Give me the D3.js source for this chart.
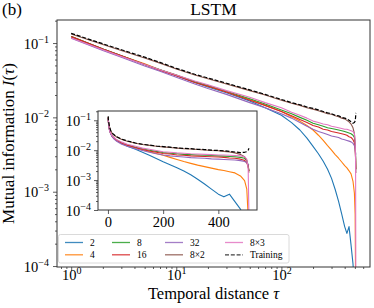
<!DOCTYPE html>
<html>
<head>
<meta charset="utf-8">
<script src="https://cdn.jsdelivr.net/npm/d3@7"></script>
<style>
body { margin: 0; background: #fff; }
svg text { font-family: "Liberation Serif", "Times New Roman", serif; fill: #000; }
</style>
</head>
<body>
<svg id="drawing_region"></svg>
<script>
// temporal distance grid
const tau = [1, 2, 3, 5, 7, 10, 15, 20, 30, 50, 70, 100, 125, 150, 175, 200, 225, 250, 275, 300,
             325, 350, 375, 400, 420, 440, 460, 480, 495, 503, 508, 511];

// mutual information I(tau) per model, estimated from the plot
const mi_2 = [1.22e-1, 8.32e-2, 6.76e-2, 5.13e-2, 4.37e-2, 3.63e-2, 2.95e-2, 2.57e-2, 2.14e-2, 1.66e-2, 1.35e-2, 1.07e-2,
              8.51e-3, 6.76e-3, 5.25e-3, 4.07e-3, 3.24e-3, 2.57e-3, 2.00e-3, 1.51e-3, 1.07e-3, 7.41e-4, 5.01e-4, 3.39e-4,
              2.75e-4, 3.39e-4, 1.91e-4, 1.07e-4, 5.01e-5, 2.51e-5, 2.51e-5, 2.51e-5];
const mi_4 = [1.22e-1, 8.32e-2, 6.76e-2, 5.25e-2, 4.37e-2, 3.72e-2, 3.02e-2, 2.63e-2, 2.19e-2, 1.74e-2, 1.45e-2, 1.20e-2,
              1.02e-2, 8.91e-3, 7.76e-3, 6.76e-3, 5.75e-3, 4.90e-3, 4.17e-3, 3.63e-3, 3.16e-3, 2.82e-3, 2.51e-3, 2.24e-3,
              2.09e-3, 1.91e-3, 1.74e-3, 1.38e-3, 9.55e-4, 5.01e-4, 6.31e-5, 3.98e-5];
const mi_8 = [1.22e-1, 8.32e-2, 6.76e-2, 5.13e-2, 4.37e-2, 3.72e-2, 3.02e-2, 2.69e-2, 2.24e-2, 1.78e-2, 1.51e-2, 1.26e-2,
              1.12e-2, 1.00e-2, 9.12e-3, 8.32e-3, 7.94e-3, 7.59e-3, 7.24e-3, 7.08e-3, 6.92e-3, 6.76e-3, 6.61e-3, 6.46e-3,
              6.31e-3, 6.17e-3, 6.03e-3, 5.75e-3, 5.37e-3, 4.47e-3, 3.16e-3, 2.00e-3];
const mi_16 = [1.22e-1, 8.32e-2, 6.76e-2, 5.13e-2, 4.27e-2, 3.63e-2, 2.95e-2, 2.63e-2, 2.19e-2, 1.70e-2, 1.45e-2, 1.20e-2,
               1.05e-2, 9.33e-3, 8.51e-3, 7.76e-3, 7.41e-3, 6.92e-3, 6.76e-3, 6.46e-3, 6.31e-3, 6.17e-3, 6.03e-3, 5.89e-3,
               5.75e-3, 5.50e-3, 5.37e-3, 5.01e-3, 4.57e-3, 3.80e-3, 2.82e-3, 2.00e-3];
const mi_32 = [1.16e-1, 7.94e-2, 6.46e-2, 4.90e-2, 4.17e-2, 3.47e-2, 2.82e-2, 2.45e-2, 2.04e-2, 1.58e-2, 1.35e-2, 1.12e-2,
               9.77e-3, 8.51e-3, 7.59e-3, 6.92e-3, 6.46e-3, 6.17e-3, 5.89e-3, 5.62e-3, 5.50e-3, 5.37e-3, 5.13e-3, 5.01e-3,
               4.90e-3, 4.79e-3, 4.68e-3, 4.47e-3, 4.17e-3, 3.80e-3, 3.31e-3, 3.16e-3];
const mi_8x2 = [1.32e-1, 9.55e-2, 7.94e-2, 6.31e-2, 5.37e-2, 4.47e-2, 3.72e-2, 3.31e-2, 2.82e-2, 2.29e-2, 2.00e-2, 1.70e-2,
                1.55e-2, 1.45e-2, 1.35e-2, 1.29e-2, 1.23e-2, 1.17e-2, 1.12e-2, 1.10e-2, 1.05e-2, 1.02e-2, 9.77e-3, 9.55e-3,
                9.12e-3, 8.71e-3, 8.13e-3, 7.24e-3, 6.03e-3, 4.47e-3, 2.82e-3, 1.78e-3];
const mi_8x3 = [1.17e-1, 8.13e-2, 6.61e-2, 5.13e-2, 4.37e-2, 3.72e-2, 3.09e-2, 2.75e-2, 2.29e-2, 1.86e-2, 1.58e-2, 1.35e-2,
                1.17e-2, 1.07e-2, 9.77e-3, 8.91e-3, 8.51e-3, 8.13e-3, 7.94e-3, 7.59e-3, 7.41e-3, 7.24e-3, 7.08e-3, 6.92e-3,
                6.92e-3, 6.76e-3, 6.61e-3, 6.46e-3, 6.03e-3, 5.01e-3, 2.51e-3, 5.01e-5];
const mi_training = [1.35e-1, 9.77e-2, 8.13e-2, 6.46e-2, 5.50e-2, 4.57e-2, 3.80e-2, 3.39e-2, 2.88e-2, 2.34e-2, 2.04e-2, 1.74e-2,
                     1.58e-2, 1.48e-2, 1.38e-2, 1.32e-2, 1.26e-2, 1.20e-2, 1.15e-2, 1.12e-2, 1.07e-2, 1.05e-2, 1.00e-2, 9.77e-3,
                     9.55e-3, 9.12e-3, 8.71e-3, 8.32e-3, 8.51e-3, 8.91e-3, 1.00e-2, 1.15e-2];

const seriesNames = ['2', '4', '8', '16', '32', '8×2', '8×3', 'Training'];
const seriesValues = [mi_2, mi_4, mi_8, mi_16, mi_32, mi_8x2, mi_8x3, mi_training];
const seriesColors = ['#1f77b4', '#ff7f0e', '#2ca02c', '#d62728', '#9467bd', '#8c564b', '#e377c2', '#000000'];

// tick labels
const xMajor = [1, 10, 100];
const xMajorExp = ['0', '1', '2'];
const yMajor = [1e-1, 1e-2, 1e-3, 1e-4];
const yMajorExp = ['\u22121', '\u22122', '\u22123', '\u22124'];
const insetXTicks = [0, 200, 400];

const W = 374, H = 308;
const main = { left: 57, right: 370, top: 20, bottom: 267 };
const inset = { left: 98, right: 257, top: 111, bottom: 210 };

const svg = d3.select('#drawing_region').attr('width', W).attr('height', H);

const series = seriesNames.map((name, i) => ({
    name: name,
    color: seriesColors[i],
    dashed: name === 'Training',
    points: tau.map((t, j) => ({ t: t, v: seriesValues[i][j] }))
}));

// main axes: log-log
const xscale = d3.scaleLog().domain([Math.pow(10, -0.135), Math.pow(10, 2.843)]).range([main.left, main.right]);
const yscale = d3.scaleLog().domain([Math.pow(10, -4.013), Math.pow(10, -0.69)]).range([main.bottom, main.top]);

// inset: linear x, log y
const ixscale = d3.scaleLinear().domain([-36, 540]).range([inset.left, inset.right]);
const iyscale = d3.scaleLog().domain([1e-4, Math.pow(10, -0.69)]).range([inset.bottom, inset.top]);

const defs = svg.append('defs');
defs.append('clipPath').attr('id', 'clip-main').append('rect')
    .attr('x', main.left).attr('y', main.top)
    .attr('width', main.right - main.left).attr('height', main.bottom - main.top);
defs.append('clipPath').attr('id', 'clip-inset').append('rect')
    .attr('x', inset.left).attr('y', inset.top)
    .attr('width', inset.right - inset.left).attr('height', inset.bottom - inset.top);

function drawLines(g, xs, ys, clipId) {
    const line = d3.line().x(d => xs(d.t)).y(d => ys(d.v));
    g.append('g').attr('clip-path', `url(#${clipId})`)
        .selectAll('path')
        .data(series)
        .enter()
        .append('path')
        .attr('d', d => line(d.points))
        .attr('fill', 'none')
        .attr('stroke', d => d.color)
        .attr('stroke-width', d => d.dashed ? 1.2 : 1.1)
        .attr('stroke-dasharray', d => d.dashed ? '4,1.8' : null)
        .attr('stroke-linejoin', 'round');
}

function powLabel(text, exp) {
    text.text('10');
    text.append('tspan').attr('dy', -6).attr('font-size', 10).text(exp);
}

function styleAxis(g) {
    g.select('.domain').remove();
    g.selectAll('.tick line').attr('stroke', '#333').attr('stroke-width', 0.8);
}

// ---- main plot ----
drawLines(svg, xscale, yscale, 'clip-main');

const minorX = xscale.ticks().filter(v => xMajor.indexOf(v) < 0);
const minorY = yscale.ticks().filter(v => yMajor.indexOf(v) < 0);

svg.append('g').attr('transform', `translate(0,${main.bottom})`)
    .call(d3.axisBottom(xscale).tickValues(minorX).tickSize(2).tickFormat(''))
    .call(styleAxis);
const xg = svg.append('g').attr('transform', `translate(0,${main.bottom})`)
    .call(d3.axisBottom(xscale).tickValues(xMajor).tickSize(4).tickFormat(''))
    .call(styleAxis);
xg.selectAll('.tick text').remove();
xg.selectAll('.tick').each(function(d, i) {
    const t = d3.select(this).append('text')
        .attr('y', 13).attr('text-anchor', 'middle').attr('font-size', 14.5);
    powLabel(t, xMajorExp[i]);
});

svg.append('g').attr('transform', `translate(${main.left},0)`)
    .call(d3.axisLeft(yscale).tickValues(minorY).tickSize(2).tickFormat(''))
    .call(styleAxis);
const yg = svg.append('g').attr('transform', `translate(${main.left},0)`)
    .call(d3.axisLeft(yscale).tickValues(yMajor).tickSize(4).tickFormat(''))
    .call(styleAxis);
yg.selectAll('.tick text').remove();
yg.selectAll('.tick').each(function(d, i) {
    const t = d3.select(this).append('text')
        .attr('x', -8).attr('y', 5).attr('text-anchor', 'end').attr('font-size', 14.5);
    powLabel(t, yMajorExp[i]);
});

svg.append('rect')
    .attr('x', main.left).attr('y', main.top)
    .attr('width', main.right - main.left).attr('height', main.bottom - main.top)
    .attr('fill', 'none').attr('stroke', '#333').attr('stroke-width', 1);

// ---- inset ----
const ig = svg.append('g');
ig.append('rect')
    .attr('x', inset.left).attr('y', inset.top)
    .attr('width', inset.right - inset.left).attr('height', inset.bottom - inset.top)
    .attr('fill', '#fff');
drawLines(ig, ixscale, iyscale, 'clip-inset');

const ixg = ig.append('g').attr('transform', `translate(0,${inset.bottom})`)
    .call(d3.axisBottom(ixscale).tickValues(insetXTicks).tickSize(4).tickFormat(d3.format('d')))
    .call(styleAxis);
ixg.selectAll('.tick text').attr('y', 7).attr('dy', '0.71em').attr('font-size', 14.5).attr('fill', '#000');

const iminorY = iyscale.ticks().filter(v => yMajor.indexOf(v) < 0);
ig.append('g').attr('transform', `translate(${inset.left},0)`)
    .call(d3.axisLeft(iyscale).tickValues(iminorY).tickSize(2).tickFormat(''))
    .call(styleAxis);
const iyg = ig.append('g').attr('transform', `translate(${inset.left},0)`)
    .call(d3.axisLeft(iyscale).tickValues(yMajor).tickSize(4).tickFormat(''))
    .call(styleAxis);
iyg.selectAll('.tick text').remove();
iyg.selectAll('.tick').each(function(d, i) {
    const t = d3.select(this).append('text')
        .attr('x', -7).attr('y', 5).attr('text-anchor', 'end').attr('font-size', 14.5);
    powLabel(t, yMajorExp[i]);
});

ig.append('rect')
    .attr('x', inset.left).attr('y', inset.top)
    .attr('width', inset.right - inset.left).attr('height', inset.bottom - inset.top)
    .attr('fill', 'none').attr('stroke', '#333').attr('stroke-width', 1);

// ---- legend ----
const lg = svg.append('g');
lg.append('rect')
    .attr('x', 58.5).attr('y', 234.5).attr('width', 230.5).attr('height', 28.5)
    .attr('rx', 2).attr('fill', '#fff').attr('fill-opacity', 0.85)
    .attr('stroke', '#d0d0d0').attr('stroke-width', 0.8);
const colX = [65, 112, 165, 225];
const rowY = [242.5, 254.8];
series.forEach((s, i) => {
    const cx = colX[Math.floor(i / 2)];
    const cy = rowY[i % 2];
    lg.append('line')
        .attr('x1', cx).attr('x2', cx + 18).attr('y1', cy).attr('y2', cy)
        .attr('stroke', s.color).attr('stroke-width', 1.3)
        .attr('stroke-opacity', s.dashed ? 0.75 : 0.85)
        .attr('stroke-dasharray', s.dashed ? '4,1.8' : null);
    lg.append('text')
        .attr('x', cx + 25).attr('y', cy + 3.3)
        .attr('font-size', 9.5)
        .text(s.name);
});

// ---- titles and labels ----
svg.append('text')
    .attr('x', (main.left + main.right) / 2).attr('y', 15)
    .attr('text-anchor', 'middle').attr('font-size', 17.5)
    .text('LSTM');
svg.append('text')
    .attr('x', 2).attr('y', 15)
    .attr('font-size', 17)
    .text('(b)');

const xl = svg.append('text')
    .attr('x', (main.left + main.right) / 2).attr('y', 299)
    .attr('text-anchor', 'middle').attr('font-size', 16.5)
    .text('Temporal distance ');
xl.append('tspan').attr('font-style', 'italic').text('τ');

const yl = svg.append('text')
    .attr('transform', `translate(14,${(main.top + main.bottom) / 2}) rotate(-90)`)
    .attr('text-anchor', 'middle').attr('font-size', 17)
    .text('Mutual information ');
yl.append('tspan').attr('font-style', 'italic').text('I');
yl.append('tspan').text('(');
yl.append('tspan').attr('font-style', 'italic').text('τ');
yl.append('tspan').text(')');
</script>
</body>
</html>
